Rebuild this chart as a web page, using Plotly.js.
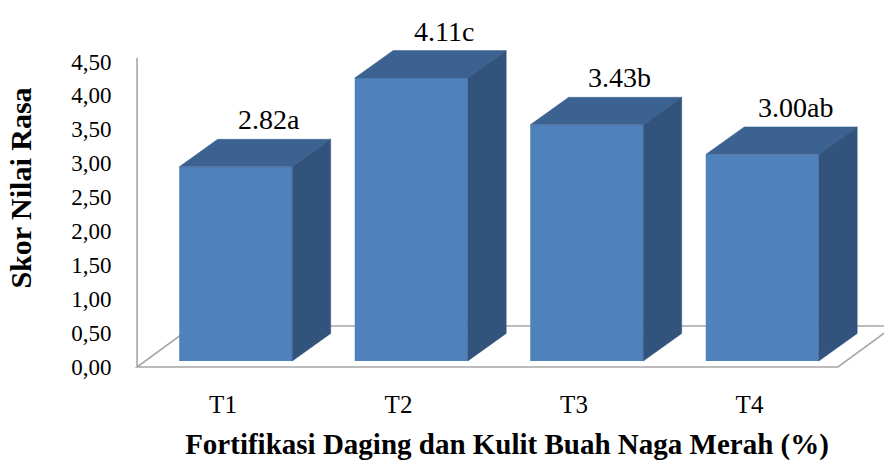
<!DOCTYPE html>
<html>
<head>
<meta charset="utf-8">
<script src="https://cdn.plot.ly/plotly-3.0.1.min.js"></script>
<style>html,body{margin:0;padding:0;background:#fff;}#chart{width:884px;height:461px;}</style>
</head>
<body>
<div id="chart"></div>
<script>
// ---- data ----
const categories = ['T1', 'T2', 'T3', 'T4'];
const values = [2.82, 4.11, 3.43, 3.00];
const letters = ['a', 'c', 'b', 'ab'];
const yTickVals = [0, 0.5, 1, 1.5, 2, 2.5, 3, 3.5, 4, 4.5];
const yTickText = ['0,00', '0,50', '1,00', '1,50', '2,00', '2,50', '3,00', '3,50', '4,00', '4,50'];
const xTitle = 'Fortifikasi Daging dan Kulit Buah Naga Merah (%)';
const yTitle = 'Skor Nilai Rasa';

// ---- style / geometry ----
const FRONT = '#4f81bd', TOP = '#3c6291', SIDE = '#32537c';
const BAR_W = 0.644;     // bar width in category units
const DX = 0.219;        // depth offset (x, category units)
const DY = 0.40;         // depth offset (y, value units)
const SERIF = 'Liberation Serif, Times New Roman, serif';

const idx = categories.map((c, i) => i);

const traces = [];
traces.push({
  type: 'bar', x: idx, y: values, width: BAR_W,
  xaxis: 'x2', yaxis: 'y2',
  marker: {color: FRONT, line: {width: 0}},
  hoverinfo: 'skip'
});
idx.forEach((xi, i) => {
  const v = values[i];
  const xl = xi - BAR_W / 2, xr = xi + BAR_W / 2;
  traces.push({
    type: 'scatter', mode: 'lines', fill: 'toself', fillcolor: TOP,
    x: [xl, xr, xr + DX, xl + DX, xl],
    y: [v, v, v + DY, v + DY, v],
    line: {width: 0.5, color: TOP}, xaxis: 'x2', yaxis: 'y2', hoverinfo: 'skip'
  });
  traces.push({
    type: 'scatter', mode: 'lines', fill: 'toself', fillcolor: SIDE,
    x: [xr, xr + DX, xr + DX, xr, xr],
    y: [0, DY, v + DY, v, 0],
    line: {width: 0.5, color: SIDE}, xaxis: 'x2', yaxis: 'y2', hoverinfo: 'skip'
  });
});

const annotations = idx.map((xi, i) => ({
  x: xi, y: values[i], xref: 'x2', yref: 'y2',
  text: values[i].toFixed(2) + letters[i],
  showarrow: false, xanchor: 'center', yanchor: 'middle',
  xshift: 33, yshift: 47,
  font: {family: SERIF, size: 28, color: '#000'}
}));

// floor (front plane axes x / y)
const fl = -0.4897, fr = 3.504, bdx = 0.319, bdy = 0.604;
const GRAY = '#a6a6a6';
const shapes = [
  {type: 'path', xref: 'x', yref: 'y', layer: 'below',
   path: `M ${fl} 0 L ${fr} 0 L ${fr + bdx} ${bdy} L ${fl + bdx} ${bdy} Z`,
   fillcolor: '#ffffff', line: {color: GRAY, width: 1.6}},
  {type: 'line', xref: 'x', yref: 'y', layer: 'below',
   x0: fl, x1: fl, y0: 0, y1: 4.55, line: {color: GRAY, width: 1.6}}
];

const layout = {
  width: 884, height: 461,
  margin: {l: 130, r: 0, t: 0, b: 85},
  paper_bgcolor: '#ffffff', plot_bgcolor: 'rgba(0,0,0,0)',
  showlegend: false,
  font: {family: SERIF, color: '#000'},
  xaxis: {
    range: [-0.5299, 3.7664], tickvals: idx, ticktext: categories,
    showgrid: false, zeroline: false, showline: false,
    ticks: 'outside', ticklen: 6, tickcolor: 'rgba(0,0,0,0)',
    tickfont: {family: SERIF, size: 25, color: '#000'},
    title: {text: '<b>' + xTitle + '</b>', standoff: 16,
            font: {family: SERIF, size: 29, color: '#000'}}
  },
  yaxis: {
    range: [-0.1325, 5.405], tickvals: yTickVals, ticktext: yTickText,
    showgrid: false, zeroline: false, showline: false,
    ticks: 'outside', ticklen: 13, tickcolor: 'rgba(0,0,0,0)',
    tickfont: {family: SERIF, size: 23, color: '#000'},
    title: {text: '<b>' + yTitle + '</b>', standoff: 30,
            font: {family: SERIF, size: 30, color: '#000'}}
  },
  xaxis2: {overlaying: 'x', range: [-0.6026, 3.6937], visible: false},
  yaxis2: {overlaying: 'y', range: [-0.2179, 5.243], visible: false},
  shapes: shapes,
  annotations: annotations
};

Plotly.newPlot('chart', traces, layout, {staticPlot: true, displayModeBar: false});
</script>
</body>
</html>
